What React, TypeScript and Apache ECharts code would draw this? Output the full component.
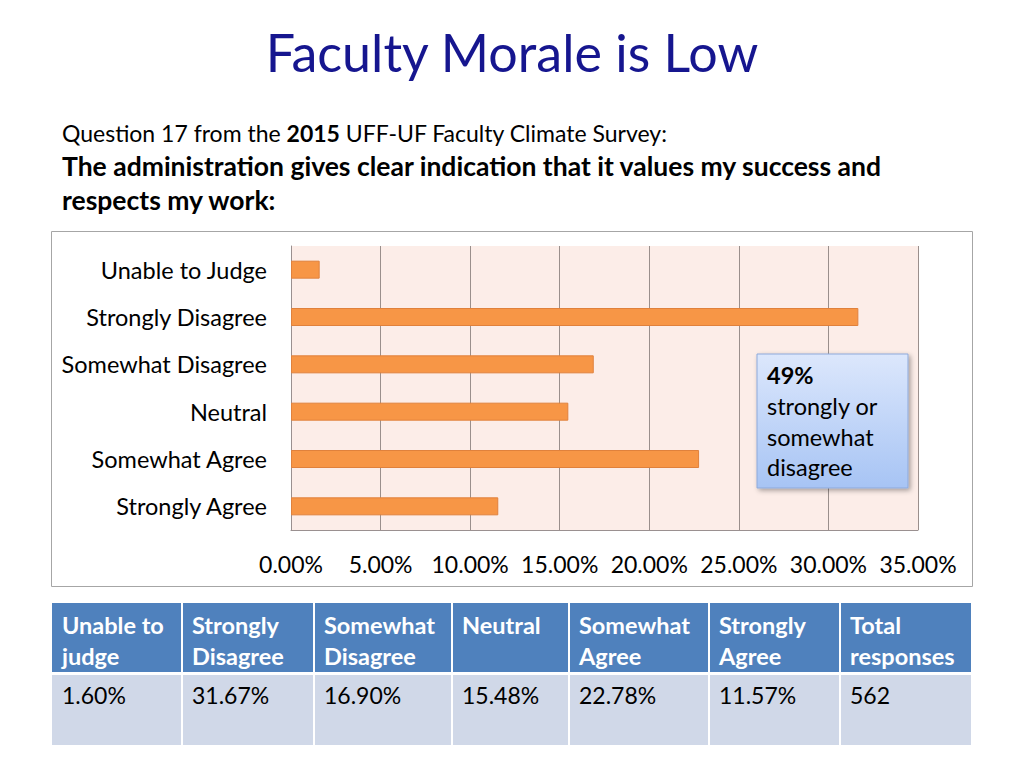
import React, { useEffect, useRef } from "react";
import * as echarts from "echarts";

const categories = [
  "Unable to Judge",
  "Strongly Disagree",
  "Somewhat Disagree",
  "Neutral",
  "Somewhat Agree",
  "Strongly Agree",
];
const values = [1.6, 31.67, 16.9, 15.48, 22.78, 11.57];

const tableHeaders = [
  "Unable to\njudge",
  "Strongly\nDisagree",
  "Somewhat\nDisagree",
  "Neutral",
  "Somewhat\nAgree",
  "Strongly\nAgree",
  "Total\nresponses",
];
const tableValues = ["1.60%", "31.67%", "16.90%", "15.48%", "22.78%", "11.57%", "562"];
const colEdges = [52, 182, 314, 452, 569, 709, 840, 972];

const FONT = "Lato";

export default function App() {
  const ref = useRef<HTMLDivElement>(null);
  useEffect(() => {
    if (!ref.current) return;
    const chart = echarts.init(ref.current, undefined, { renderer: "svg" });

    const graphics: any[] = [];
    graphics.push({
      type: "rect",
      z: -10,
      shape: { x: 51.5, y: 231.5, width: 921, height: 355 },
      style: { fill: "#fff", stroke: "#A6A6A6", lineWidth: 1 },
      silent: true,
    });
    graphics.push({
      type: "text",
      x: 512,
      y: 52,
      style: {
        text: "Faculty Morale is Low",
        font: `52px ${FONT}`,
        fill: "#16168F",
        align: "center",
        verticalAlign: "middle",
      },
    });
    graphics.push({
      type: "text",
      x: 62,
      y: 133,
      style: {
        text: "{n|Question 17 from the }{b|2015}{n| UFF-UF Faculty Climate Survey:}",
        rich: {
          n: { font: `23px ${FONT}`, fill: "#000" },
          b: { font: `bold 23px ${FONT}`, fill: "#000" },
        },
        verticalAlign: "middle",
      },
    });
    graphics.push({
      type: "text",
      x: 62,
      y: 166,
      style: {
        text: "The administration gives clear indication that it values my success and",
        font: `bold 26.5px ${FONT}`,
        fill: "#000",
        verticalAlign: "middle",
      },
    });
    graphics.push({
      type: "text",
      x: 62,
      y: 200,
      style: {
        text: "respects my work:",
        font: `bold 26.5px ${FONT}`,
        fill: "#000",
        verticalAlign: "middle",
      },
    });
    graphics.push({
      type: "rect",
      z: 20,
      shape: { x: 757, y: 354, width: 151, height: 134 },
      style: {
        fill: new echarts.graphic.LinearGradient(0, 0, 0, 1, [
          { offset: 0, color: "#DCE7FC" },
          { offset: 1, color: "#A7C4F4" },
        ]),
        stroke: "#8DA9DA",
        lineWidth: 1,
        shadowBlur: 5,
        shadowOffsetX: 2,
        shadowOffsetY: 2,
        shadowColor: "rgba(0,0,0,0.35)",
      },
    });
    const callLines = [
      { t: "49%", bold: true, y: 375 },
      { t: "strongly or", bold: false, y: 406 },
      { t: "somewhat", bold: false, y: 437 },
      { t: "disagree", bold: false, y: 467 },
    ];
    callLines.forEach((l) =>
      graphics.push({
        type: "text",
        z: 21,
        x: 767,
        y: l.y,
        style: {
          text: l.t,
          font: `${l.bold ? "bold " : ""}23.5px ${FONT}`,
          fill: "#000",
          verticalAlign: "middle",
        },
      })
    );
    for (let i = 0; i < tableHeaders.length; i++) {
      const x0 = colEdges[i];
      const w = colEdges[i + 1] - colEdges[i];
      graphics.push({
        type: "rect",
        shape: { x: x0 + (i === 0 ? 0 : 1), y: 603, width: w - (i === 0 ? 1 : 2), height: 69 },
        style: { fill: "#4F81BD" },
      });
      graphics.push({
        type: "rect",
        shape: { x: x0 + (i === 0 ? 0 : 1), y: 675, width: w - (i === 0 ? 1 : 2), height: 70 },
        style: { fill: "#D0D8E8" },
      });
      graphics.push({
        type: "text",
        x: x0 + 10,
        y: 609,
        style: {
          text: tableHeaders[i],
          font: `bold 23.5px ${FONT}`,
          lineHeight: 31,
          fill: "#fff",
          verticalAlign: "top",
        },
      });
      graphics.push({
        type: "text",
        x: x0 + 10,
        y: 695,
        style: {
          text: tableValues[i],
          font: `23px ${FONT}`,
          fill: "#000",
          verticalAlign: "middle",
        },
      });
    }

    chart.setOption({
      animation: false,
      grid: {
        left: 291,
        right: 1024 - 918,
        top: 246,
        bottom: 768 - 530,
        show: true,
        backgroundColor: "#FCEDE8",
        borderWidth: 0,
      },
      xAxis: {
        type: "value",
        min: 0,
        max: 35,
        interval: 5,
        axisLine: { show: true, lineStyle: { color: "#9A9090", width: 1 } },
        axisTick: { show: false },
        splitLine: { show: true, lineStyle: { color: "#9A8F8C", width: 1 } },
        axisLabel: {
          margin: 22,
          fontSize: 23,
          fontFamily: FONT,
          color: "#000",
          formatter: (v: number) => v.toFixed(2) + "%",
        },
      },
      yAxis: {
        type: "category",
        inverse: true,
        data: categories,
        axisLine: { show: true, lineStyle: { color: "#9A9090", width: 1 } },
        axisTick: { show: false },
        axisLabel: {
          margin: 24,
          fontSize: 23.5,
          fontFamily: FONT,
          color: "#000",
        },
      },
      series: [
        {
          type: "bar",
          data: values,
          barWidth: 18,
          itemStyle: { color: "#F79646", borderColor: "#E0813C", borderWidth: 1 },
        },
      ],
      graphic: graphics,
    });
    return () => chart.dispose();
  }, []);
  return (
    <div
      ref={ref}
      style={{ position: "fixed", left: 0, top: 0, width: 1024, height: 768, background: "#fff" }}
    />
  );
}
